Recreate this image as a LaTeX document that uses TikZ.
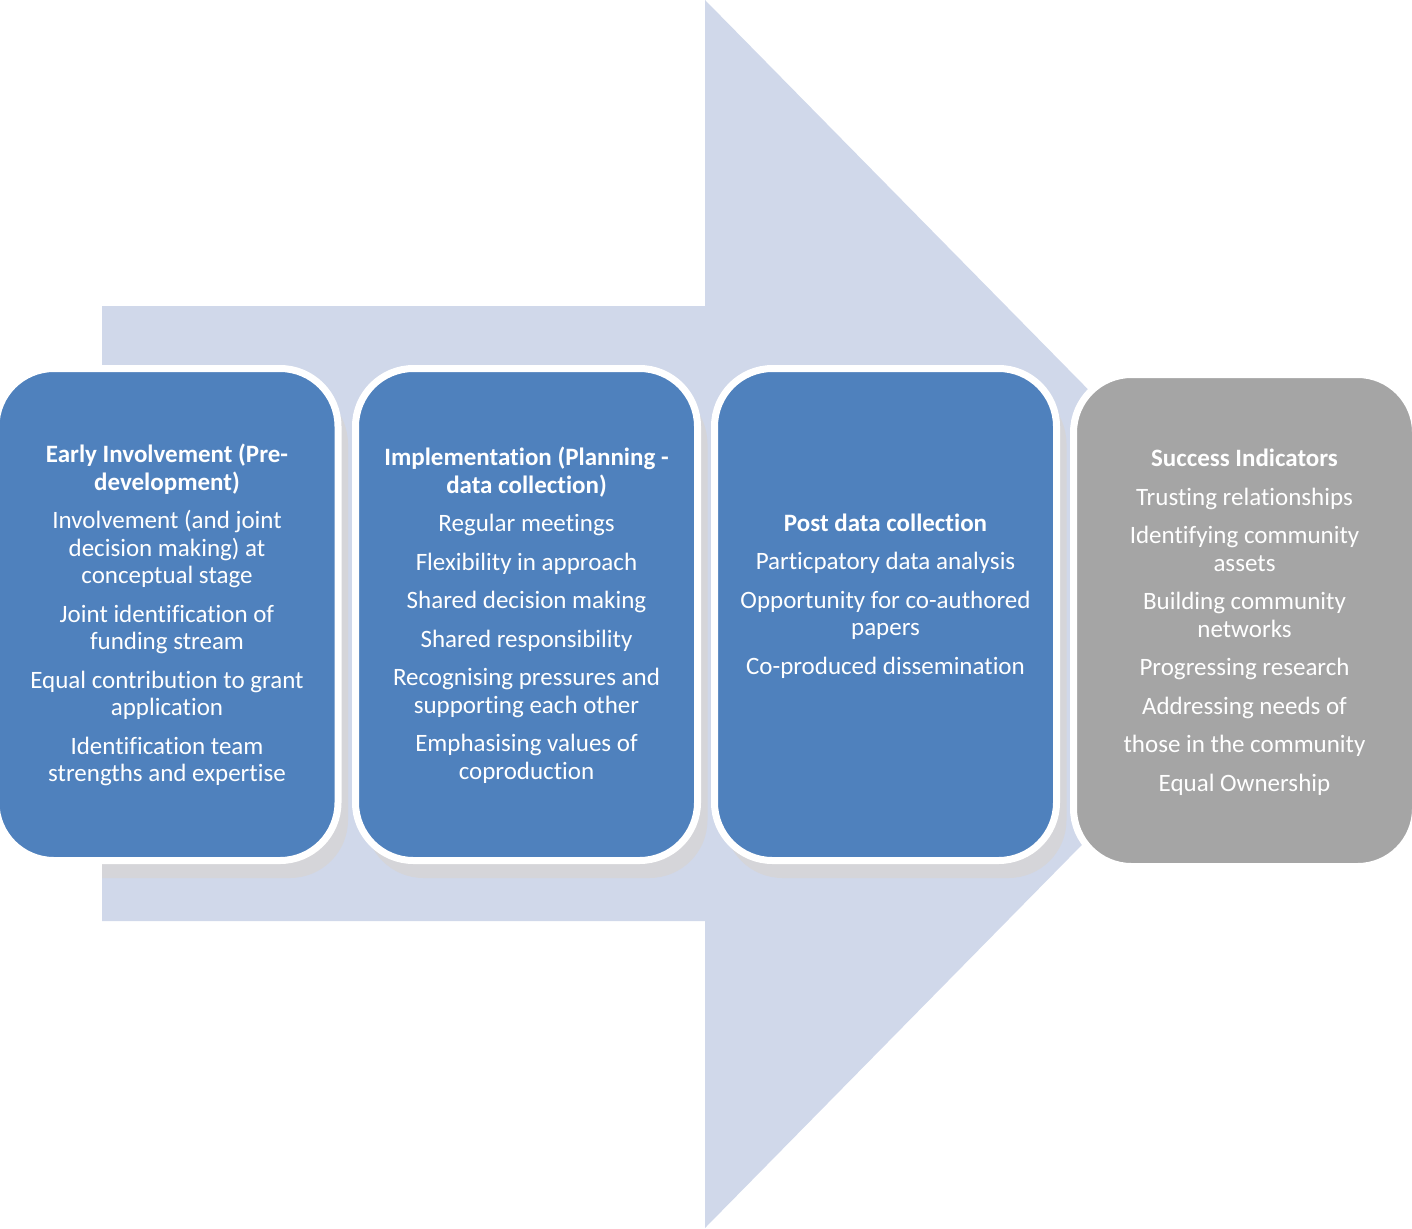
\documentclass[tikz,border=0pt]{standalone}
\usepackage{fontspec}
\setmainfont{Carlito}[Ligatures=NoCommon]
\definecolor{arrowfill}{HTML}{D0D8EA}
\definecolor{stageblue}{HTML}{4F81BD}
\definecolor{stagegray}{HTML}{A5A5A5}
\definecolor{shadowgray}{HTML}{D5D5D9}
\begin{document}
\begin{tikzpicture}[x=1pt,y=-1pt,
  stagebox/.style={rectangle, rounded corners=58pt, draw=white, line width=7pt,
    minimum width=342pt, minimum height=492pt, inner sep=0pt},
  shadowbox/.style={rectangle, rounded corners=58pt, fill=shadowgray,
    minimum width=342pt, minimum height=492pt, inner sep=0pt},
  stagetext/.style={text=white, align=center, inner sep=0pt,
    font=\fontsize{25}{27.5}\selectfont}]
\useasboundingbox (0,0) rectangle (1412,1228);
% big background arrow
\fill[arrowfill] (102,306) -- (705,306) -- (705,0) -- (1309,614) -- (705,1228) -- (705,921) -- (102,921) -- cycle;
% shadows, seen only on the arrow
\begin{scope}
  \clip (102,306) -- (705,306) -- (705,0) -- (1309,614) -- (705,1228) -- (705,921) -- (102,921) -- cycle;
  \node[shadowbox] (s1) at (177,632) {};
  \node[shadowbox] (s2) at (536.5,632) {};
  \node[shadowbox] (s3) at (895.5,632) {};
\end{scope}
% stage boxes
\node[stagebox, fill=stageblue] (b1) at (167,614.5) {};
\node[stagebox, fill=stageblue] (b2) at (526.5,614.5) {};
\node[stagebox, fill=stageblue] (b3) at (885.5,614.5) {};
\node[stagebox, fill=stagegray] (b4) at (1244.5,620.5) {};
% texts
\node[stagetext] (t1) at (167,615) {\textbf{Early Involvement (Pre-}\\ \textbf{development)}\\[11pt]
Involvement (and joint\\ decision making) at\\ conceptual stage\\[11pt]
Joint identification of\\ funding stream\\[11pt]
Equal contribution to grant\\ application\\[11pt]
Identification team\\ strengths and expertise};
\node[stagetext] (t2) at (526.5,615) {\textbf{Implementation (Planning -}\\ \textbf{data collection)}\\[11pt]
Regular meetings\\[11pt]
Flexibility in approach\\[11pt]
Shared decision making\\[11pt]
Shared responsibility\\[11pt]
Recognising pressures and\\ supporting each other\\[11pt]
Emphasising values of\\ coproduction};
\node[stagetext] (t3) at (885.5,596) {\textbf{Post data collection}\\[11pt]
Particpatory data analysis\\[11pt]
Opportunity for co-authored\\ papers\\[11pt]
Co-produced dissemination};
\node[stagetext] (t4) at (1244.5,622) {\textbf{Success Indicators}\\[11pt]
Trusting relationships\\[11pt]
Identifying community\\ assets\\[11pt]
Building community\\ networks\\[11pt]
Progressing research\\[11pt]
Addressing needs of\\[11pt]
those in the community\\[11pt]
Equal Ownership};
\end{tikzpicture}
\end{document}
